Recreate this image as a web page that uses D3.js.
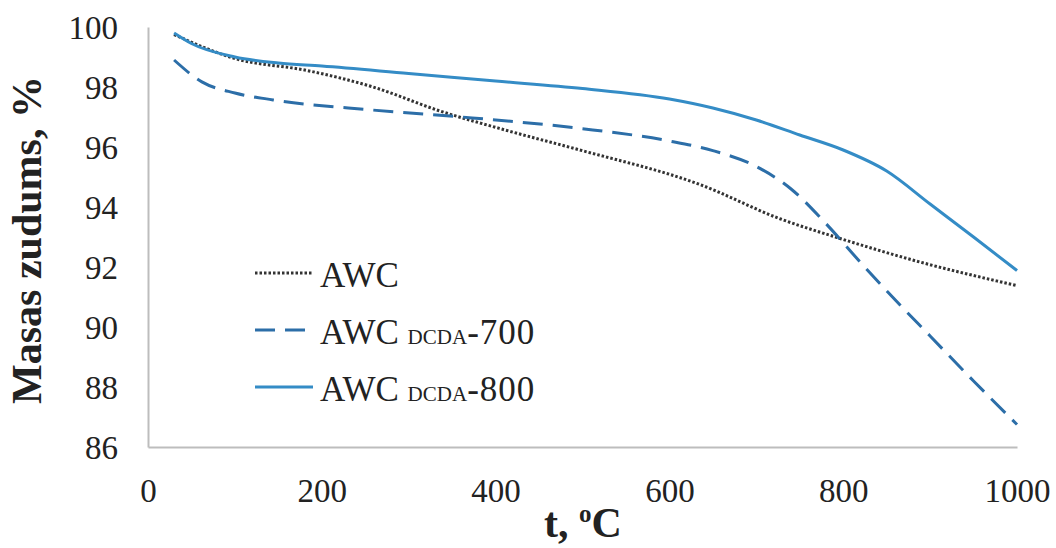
<!DOCTYPE html>
<html>
<head>
<meta charset="utf-8">
<script src="https://cdn.jsdelivr.net/npm/d3@7"></script>
<style>
  body { margin: 0; background: #fff; }
</style>
</head>
<body>
<script>
'use strict';

var width = 1056,
    height = 548,
    margin = {top: 27, right: 39, bottom: 101, left: 148},
    serif = 'Liberation Serif, Times New Roman, Times, serif';

// data
var tempAWC = [30, 100, 183, 259, 336, 413, 497, 635, 728, 791, 884, 1000];
var massAWC = [99.75, 98.95, 98.55, 98.0, 97.2, 96.55, 95.9, 94.75, 93.6, 93.0, 92.2, 91.38];

var temp700 = [30, 62, 100, 144, 259, 373, 497, 600, 650, 700, 740, 780, 820, 860, 900, 950, 1000];
var mass700 = [98.9, 98.17, 97.8, 97.57, 97.23, 96.97, 96.62, 96.2, 95.88, 95.35, 94.6, 93.45, 92.15, 90.9, 89.7, 88.2, 86.75];

var temp800 = [30, 50, 100, 150, 200, 300, 400, 500, 600, 650, 700, 750, 800, 850, 900, 950, 1000];
var mass800 = [99.8, 99.45, 99.0, 98.8, 98.7, 98.45, 98.2, 97.95, 97.6, 97.3, 96.9, 96.4, 95.9, 95.2, 94.1, 93.0, 91.88];

var xTicks = [0, 200, 400, 600, 800, 1000];
var yTicks = [86, 88, 90, 92, 94, 96, 98, 100];

var series = [
  {name: 'AWC', sub: '', temp: tempAWC, mass: massAWC, color: '#333', dash: '2.5,2'},
  {name: 'AWC ', sub: 'DCDA', tail: '-700', temp: temp700, mass: mass700, color: '#2c6ea8', dash: '20,10'},
  {name: 'AWC ', sub: 'DCDA', tail: '-800', temp: temp800, mass: mass800, color: '#348cc6', dash: null}
];

var x = d3.scaleLinear().domain([0, 1000]).range([margin.left, width - margin.right]);
var y = d3.scaleLinear().domain([86, 100]).range([height - margin.bottom, margin.top]);

var svg = d3.select('body').append('svg')
  .attr('width', width)
  .attr('height', height)
  .attr('font-family', serif);

// axes
var xAxis = svg.append('g')
  .attr('transform', 'translate(0,' + y(86) + ')')
  .call(d3.axisBottom(x).tickValues(xTicks).tickFormat(d3.format('d')).tickSize(0).tickPadding(32));
var yAxis = svg.append('g')
  .attr('transform', 'translate(' + x(0) + ',0)')
  .call(d3.axisLeft(y).tickValues(yTicks).tickSize(0).tickPadding(30));

[xAxis, yAxis].forEach(function(g) {
  g.attr('font-size', 33).attr('font-family', serif);
  g.select('.domain').attr('stroke', '#bdbdbd').attr('stroke-width', 2);
  g.selectAll('text').attr('fill', '#222');
});
yAxis.selectAll('text').attr('dy', '0.34em');

// lines
var line = d3.line()
  .curve(d3.curveMonotoneX);

series.forEach(function(s) {
  var pts = s.temp.map(function(t, i) { return [x(t), y(s.mass[i])]; });
  svg.append('path')
    .attr('d', line(pts))
    .attr('fill', 'none')
    .attr('stroke', s.color)
    .attr('stroke-width', 3)
    .attr('stroke-dasharray', s.dash);
});

// legend
var legend = svg.append('g').attr('fill', '#222');
series.forEach(function(s, i) {
  var ly = 273 + i * 57;
  legend.append('line')
    .attr('x1', 255).attr('x2', 313)
    .attr('y1', ly).attr('y2', ly)
    .attr('stroke', s.color)
    .attr('stroke-width', 3)
    .attr('stroke-dasharray', s.dash);
  var t = legend.append('text')
    .attr('x', 320).attr('y', ly + 14)
    .attr('font-size', 35);
  t.append('tspan').text(s.name);
  if (s.sub) {
    t.append('tspan').attr('font-size', 21).text(s.sub);
    t.append('tspan').attr('letter-spacing', 1).text(s.tail);
  }
});

// axis titles
var xt = svg.append('text')
  .attr('x', 583).attr('y', 537)
  .attr('text-anchor', 'middle')
  .attr('fill', '#222')
  .attr('font-size', 42)
  .attr('font-weight', 'bold');
xt.append('tspan').text('t, ');
xt.append('tspan').attr('dy', -15).attr('font-size', 25).text('o');
xt.append('tspan').attr('dy', 15).text('C');

svg.append('text')
  .attr('transform', 'translate(41,' + 240 + ') rotate(-90)')
  .attr('text-anchor', 'middle')
  .attr('fill', '#222')
  .attr('font-size', 42)
  .attr('font-weight', 'bold')
  .text('Masas zudums, %');
</script>
</body>
</html>
